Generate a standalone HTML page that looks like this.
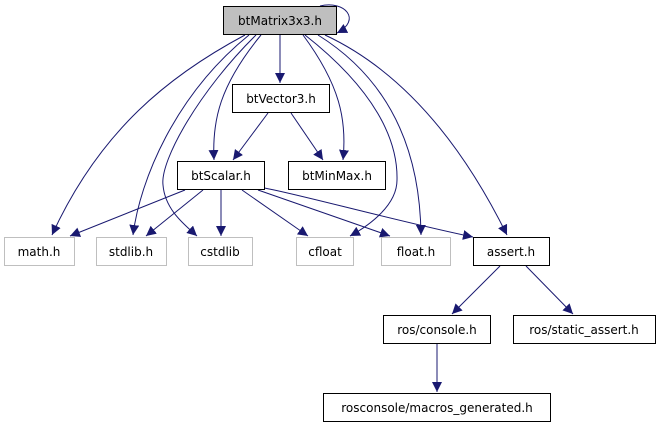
<!DOCTYPE html>
<html><head><meta charset="utf-8"><style>
html,body{margin:0;padding:0;background:#fff;}
svg{display:block;font-family:"DejaVu Sans","Liberation Sans",sans-serif;font-size:12px;}
</style></head><body>
<svg width="659" height="427" viewBox="0 0 659 427" xmlns="http://www.w3.org/2000/svg">
<defs><marker id="a" viewBox="0 0 10 10" refX="10" refY="5" markerWidth="10" markerHeight="10" markerUnits="userSpaceOnUse" orient="auto"><path d="M0,0 L10,5 L0,10 z" fill="#191970"/></marker></defs>
<g fill="none" stroke="#191970" stroke-width="1" marker-end="url(#a)">
<path d="M320,6 C345,0 362,20 337,33"/>
<path d="M245,35 C170,75 100,130 52,235"/>
<path d="M249,35 C175,95 140,180 133,235"/>
<path d="M256,35 C200,90 160,160 163,185 C165,210 185,225 197,236"/>
<path d="M261,35 C220,85 212,120 214,160"/>
<path d="M280,35 L280,83"/>
<path d="M303,35 C340,85 347,120 343,160"/>
<path d="M305,35 C375,90 398,140 397,180 C397,205 370,225 350,236"/>
<path d="M318,35 C390,80 420,150 421,235"/>
<path d="M325,35 C400,70 460,140 507,235"/>
<path d="M268,113 L233,160"/>
<path d="M291,113 L323,160"/>
<path d="M185,190 L70,236"/>
<path d="M203,190 L146,236"/>
<path d="M221,190 L221,236"/>
<path d="M242,190 L308,236"/>
<path d="M258,190 L390,236"/>
<path d="M264,188 C290,192 400,222 473,237"/>
<path d="M500,266 L452,314"/>
<path d="M526,266 L573,314"/>
<path d="M437,344 L437,392"/>
</g>
<g stroke-width="1">
<rect x="223.5" y="6.5" width="113" height="28" fill="#bfbfbf" stroke="#000"/>
<rect x="232.5" y="84.5" width="97" height="28" fill="#fff" stroke="#000"/>
<rect x="177.5" y="161.5" width="87" height="28" fill="#fff" stroke="#000"/>
<rect x="288.5" y="161.5" width="97" height="28" fill="#fff" stroke="#000"/>
<rect x="4.5" y="237.5" width="70" height="28" fill="#fff" stroke="#bfbfbf"/>
<rect x="96.5" y="237.5" width="70" height="28" fill="#fff" stroke="#bfbfbf"/>
<rect x="188.5" y="237.5" width="64" height="28" fill="#fff" stroke="#bfbfbf"/>
<rect x="296.5" y="237.5" width="57" height="28" fill="#fff" stroke="#bfbfbf"/>
<rect x="381.5" y="237.5" width="69" height="28" fill="#fff" stroke="#bfbfbf"/>
<rect x="473.5" y="237.5" width="76" height="28" fill="#fff" stroke="#000"/>
<rect x="383.5" y="315.5" width="107" height="28" fill="#fff" stroke="#000"/>
<rect x="513.5" y="315.5" width="142" height="28" fill="#fff" stroke="#000"/>
<rect x="323.5" y="393.5" width="227" height="28" fill="#fff" stroke="#000"/>
</g>
<g text-anchor="middle" fill="#000">
<text x="280" y="25">btMatrix3x3.h</text>
<text x="281" y="103">btVector3.h</text>
<text x="221" y="180">btScalar.h</text>
<text x="337" y="180">btMinMax.h</text>
<text x="39" y="256">math.h</text>
<text x="131" y="256">stdlib.h</text>
<text x="220" y="256">cstdlib</text>
<text x="325" y="256">cfloat</text>
<text x="416" y="256">float.h</text>
<text x="511" y="256">assert.h</text>
<text x="437" y="334">ros/console.h</text>
<text x="584" y="334">ros/static_assert.h</text>
<text x="437" y="412">rosconsole/macros_generated.h</text>
</g>
</svg>
</body></html>
